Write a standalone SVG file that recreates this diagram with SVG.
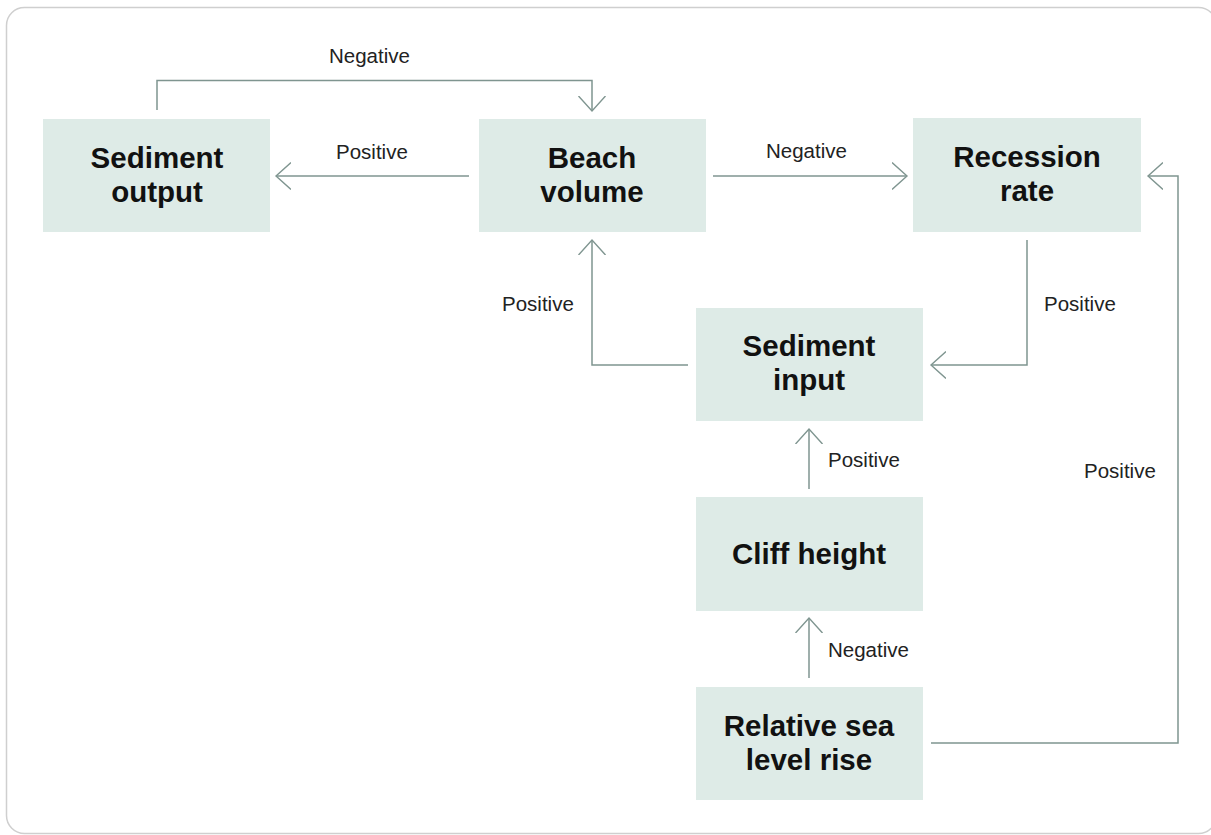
<svg xmlns="http://www.w3.org/2000/svg" width="1211" height="835" viewBox="0 0 1211 835">
<defs>
<marker id="arr" markerUnits="userSpaceOnUse" markerWidth="20" markerHeight="30" refX="15" refY="14" orient="auto">
<path d="M0,0.5 L15,14 L0,27.5" fill="none" stroke="#7f9590" stroke-width="1.4"/>
</marker>
<style>
.box{fill:#deebe7}
.t{font-family:"Liberation Sans",Arial,sans-serif;font-weight:bold;font-size:29.5px;fill:#111;text-anchor:middle}
.l{font-family:"Liberation Sans",Arial,sans-serif;font-size:20.5px;fill:#222}
.c{fill:none;stroke:#7f9590;stroke-width:1.5;marker-end:url(#arr)}
</style>
</defs>
<rect width="1211" height="835" fill="#fff"/>
<rect x="6.5" y="7.5" width="1210" height="826" rx="18" fill="#fff" stroke="#cfcfcf" stroke-width="1.5"/>
<g id="n-sediment-output"><rect class="box" x="43" y="119" width="227" height="113"/><text class="t" x="157" y="168">Sediment</text><text class="t" x="157" y="202">output</text></g>
<g id="n-beach-volume"><rect class="box" x="479" y="119" width="227" height="113"/><text class="t" x="592" y="168">Beach</text><text class="t" x="592" y="202">volume</text></g>
<g id="n-recession-rate"><rect class="box" x="913" y="118" width="228" height="114"/><text class="t" x="1027" y="167">Recession</text><text class="t" x="1027" y="201">rate</text></g>
<g id="n-sediment-input"><rect class="box" x="696" y="308" width="227" height="113"/><text class="t" x="809" y="356">Sediment</text><text class="t" x="809" y="390">input</text></g>
<g id="n-cliff-height"><rect class="box" x="696" y="497" width="227" height="114"/><text class="t" x="809" y="564">Cliff height</text></g>
<g id="n-relative-sea-level-rise"><rect class="box" x="696" y="687" width="227" height="113"/><text class="t" x="809" y="736">Relative sea</text><text class="t" x="809" y="770">level rise</text></g>
<g id="connectors">
<path class="c" d="M157,110 V80.5 H592 V111"/>
<path class="c" d="M469,176 H276"/>
<path class="c" d="M713,176 H907"/>
<path class="c" d="M1027,240 V365 H931"/>
<path class="c" d="M688,365 H592 V240"/>
<path class="c" d="M809,489 V429"/>
<path class="c" d="M809,678 V618"/>
<path class="c" d="M931,743 H1178 V176 H1148"/>
<text class="l" x="329" y="63">Negative</text>
<text class="l" x="336" y="159">Positive</text>
<text class="l" x="766" y="158">Negative</text>
<text class="l" x="502" y="311">Positive</text>
<text class="l" x="1044" y="311">Positive</text>
<text class="l" x="828" y="467">Positive</text>
<text class="l" x="828" y="657">Negative</text>
<text class="l" x="1084" y="478">Positive</text>
</g>
</svg>
